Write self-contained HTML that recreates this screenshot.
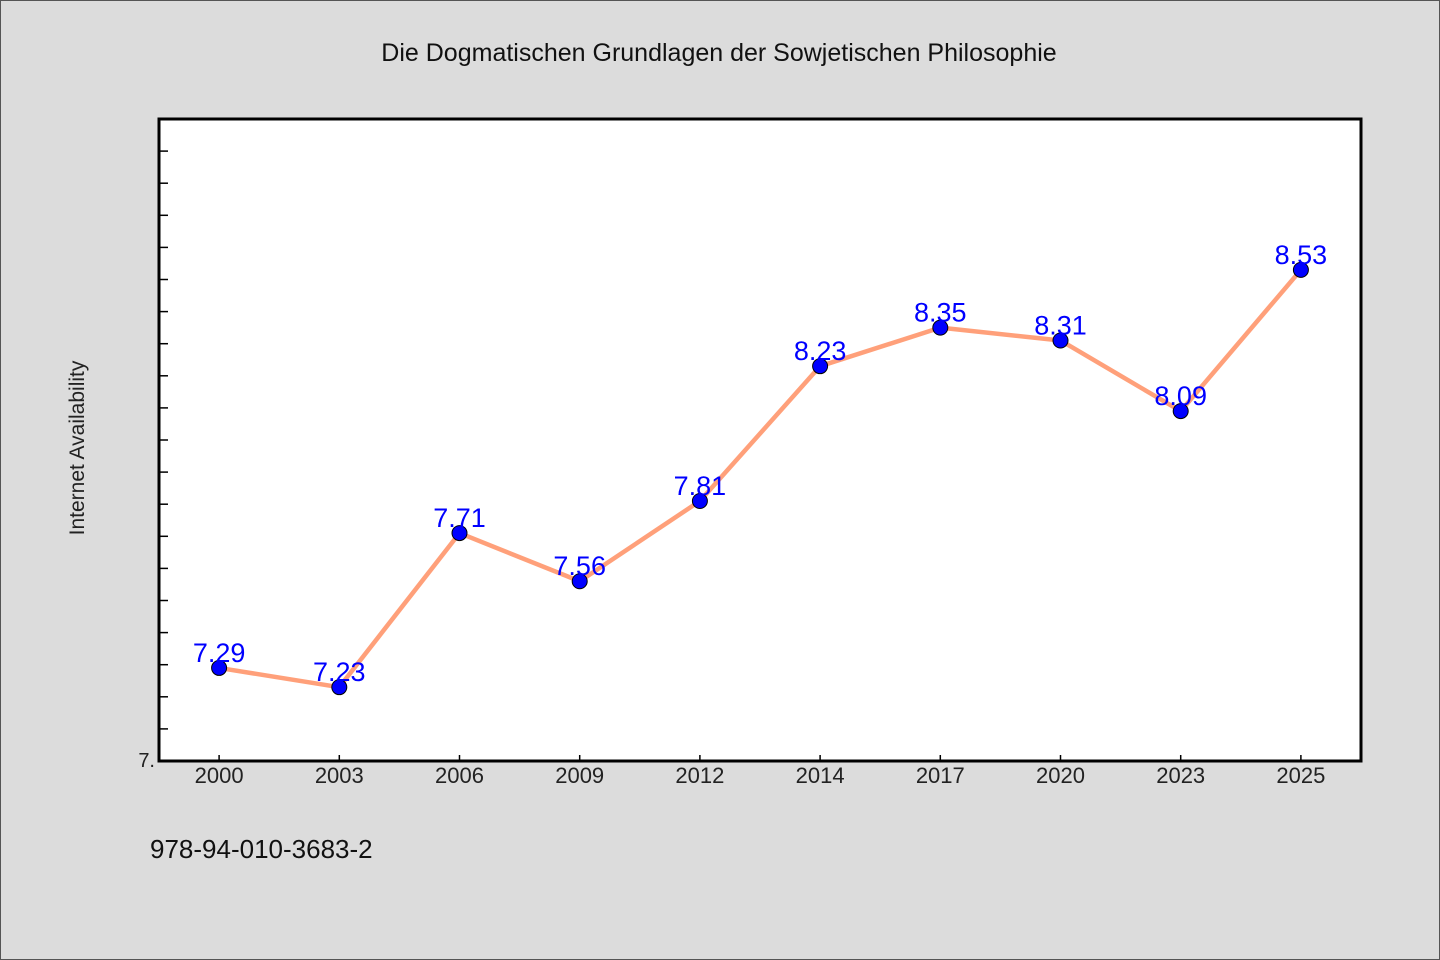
<!DOCTYPE html>
<html><head><meta charset="utf-8"><style>
html,body{margin:0;padding:0;background:#dcdcdc;}
svg{display:block;font-family:"WenQuanYi Zen Hei","Liberation Sans",sans-serif;}
</style></head><body>
<svg width="1440" height="960">
<rect x="0.5" y="0.5" width="1439" height="959" fill="#dcdcdc" stroke="#555"/>
<text x="719" y="61" text-anchor="middle" font-size="25" fill="#111">Die Dogmatischen Grundlagen der Sowjetischen Philosophie</text>
<rect x="159" y="119" width="1202" height="642" fill="#fff"/>
<text transform="translate(84,448) rotate(-90)" text-anchor="middle" font-size="21" fill="#222">Internet Availability</text>
<text x="150" y="858" font-size="26" fill="#111">978-94-010-3683-2</text>
<g id="ticks"></g>
<g id="marks"></g>
<rect x="159" y="119" width="1202" height="642" fill="none" stroke="#000" stroke-width="3"/>
</svg>
<script>
const categories=["2000","2003","2006","2009","2012","2014","2017","2020","2023","2025"];
const values=[7.29,7.23,7.71,7.56,7.81,8.23,8.35,8.31,8.09,8.53];
const labels=["7.29","7.23","7.71","7.56","7.81","8.23","8.35","8.31","8.09","8.53"];
const yMin=7, yMax=9;
const L=159,R=1361,T=119,B=761;
const NS="http://www.w3.org/2000/svg";
const step=(R-L)/categories.length;
function x(i){return L+step*(i+0.5);}
function y(v){return B-(v-yMin)/(yMax-yMin)*(B-T);}
function mk(tag,attrs,parent){const e=document.createElementNS(NS,tag);for(const k in attrs)e.setAttribute(k,attrs[k]);parent.appendChild(e);return e;}
const tg=document.getElementById('ticks');
for(let k=1;k<20;k++){const v=yMin+k*0.1;const t=mk('line',{x1:L,x2:L+9,y1:y(v),y2:y(v),stroke:'#000','stroke-width':1.5},tg);

}
const y0=mk('text',{x:L-4,y:B+6,'text-anchor':'end','font-size':20,fill:'#222'},tg);y0.textContent='7.';


categories.forEach((c,i)=>{
const t=mk('line',{x1:x(i),x2:x(i),y1:B-6,y2:B,stroke:'#000','stroke-width':1.5},tg);


const l=mk('text',{x:x(i),y:B+22,'text-anchor':'middle','font-size':22,fill:'#222'},tg);l.textContent=c;


});
const mg=document.getElementById('marks');
const pl=mk('polyline',{points:values.map((v,i)=>x(i)+','+y(v)).join(' '),fill:'none',stroke:'#ffa07a','stroke-width':4.5,'stroke-linejoin':'round'},mg);


values.forEach((v,i)=>{
const c=mk('circle',{cx:x(i),cy:y(v),r:7.5,fill:'#0000ff',stroke:'#000','stroke-width':1},mg);


const t=mk('text',{x:x(i),y:y(v)-6,'text-anchor':'middle','font-size':27,fill:'#0000ff'},mg);t.textContent=labels[i];


});
</script>
</body></html>
